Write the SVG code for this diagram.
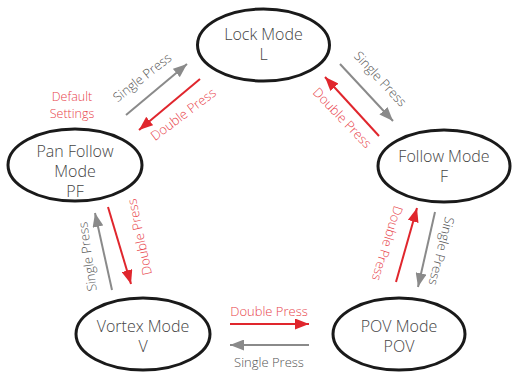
<svg xmlns="http://www.w3.org/2000/svg" width="513" height="372" viewBox="0 0 513 372">
<style>
.node ellipse{fill:#fff;stroke:#1a1a1a;stroke-width:3}
.node text{font-family:"Open Sans","Liberation Sans",sans-serif;font-weight:300;font-size:16px;fill:#444;text-anchor:middle}
.g{stroke:#8a8a8a;stroke-width:2;fill:none}
.r{stroke:#e0262d;stroke-width:2;fill:none}
.lbl{font-family:"Open Sans","Liberation Sans",sans-serif;font-weight:300;font-size:13px;text-anchor:middle}
.lg{fill:#555}
.lr{fill:#e8434b}
.ds{font-size:12.5px}
</style>
<defs>
<marker id="ag" markerUnits="userSpaceOnUse" markerWidth="14" markerHeight="11" refX="14" refY="5.5" orient="auto" viewBox="0 0 14 11"><path d="M0,0 L14,5.5 L0,11 z" fill="#8a8a8a"/></marker>
<marker id="ar" markerUnits="userSpaceOnUse" markerWidth="14" markerHeight="11" refX="14" refY="5.5" orient="auto" viewBox="0 0 14 11"><path d="M0,0 L14,5.5 L0,11 z" fill="#e0262d"/></marker>
</defs>
<g id="connectors">
<line class="g" x1="126" y1="115" x2="187" y2="64" marker-end="url(#ag)"/>
<line class="r" x1="200" y1="79" x2="139" y2="130" marker-end="url(#ar)"/>
<line class="g" x1="340" y1="64" x2="393" y2="121" marker-end="url(#ag)"/>
<line class="r" x1="379" y1="136" x2="325" y2="77" marker-end="url(#ar)"/>
<line class="g" x1="112" y1="290" x2="95" y2="213" marker-end="url(#ag)"/>
<line class="r" x1="108" y1="207" x2="131" y2="284" marker-end="url(#ar)"/>
<line class="r" x1="396" y1="282" x2="417" y2="208" marker-end="url(#ar)"/>
<line class="g" x1="435" y1="212" x2="418" y2="287" marker-end="url(#ag)"/>
<line class="r" x1="230" y1="324" x2="309" y2="324" marker-end="url(#ar)"/>
<line class="g" x1="309" y1="345" x2="230" y2="345" marker-end="url(#ag)"/>
<text class="lbl lg" transform="translate(145,81) rotate(-38)">Single Press</text>
<text class="lbl lr" transform="translate(186,118) rotate(-37)">Double Press</text>
<text class="lbl lr ds" x="72" y="101">Default</text>
<text class="lbl lr ds" x="72" y="118">Settings</text>
<text class="lbl lg" transform="translate(377,82) rotate(47)">Single Press</text>
<text class="lbl lr" transform="translate(339,121) rotate(46)">Double Press</text>
<text class="lbl lg" transform="translate(92,256) rotate(-98)">Single Press</text>
<text class="lbl lr" transform="translate(144,236) rotate(-102)">Double Press</text>
<text class="lbl lr" transform="translate(383,242) rotate(107)">Double Press</text>
<text class="lbl lg" transform="translate(437,250) rotate(104)">Single Press</text>
<text class="lbl lr" x="269" y="316">Double Press</text>
<text class="lbl lg" x="269" y="367">Single Press</text>
</g>
<g id="lock" class="node"><ellipse cx="263.5" cy="45" rx="66" ry="36"/><text x="263.5" y="40">Lock Mode</text><text x="263.5" y="60">L</text></g>
<g id="panfollow" class="node"><ellipse cx="75" cy="165" rx="67" ry="36"/><text x="75" y="157">Pan Follow</text><text x="75" y="177">Mode</text><text x="75" y="197">PF</text></g>
<g id="follow" class="node"><ellipse cx="444" cy="166" rx="66" ry="36"/><text x="444" y="162">Follow Mode</text><text x="444" y="182">F</text></g>
<g id="vortex" class="node"><ellipse cx="143" cy="334" rx="67" ry="36"/><text x="143" y="332">Vortex Mode</text><text x="143" y="352">V</text></g>
<g id="pov" class="node"><ellipse cx="399" cy="334" rx="66" ry="36"/><text x="399" y="332">POV Mode</text><text x="399" y="352">POV</text></g>
</svg>
